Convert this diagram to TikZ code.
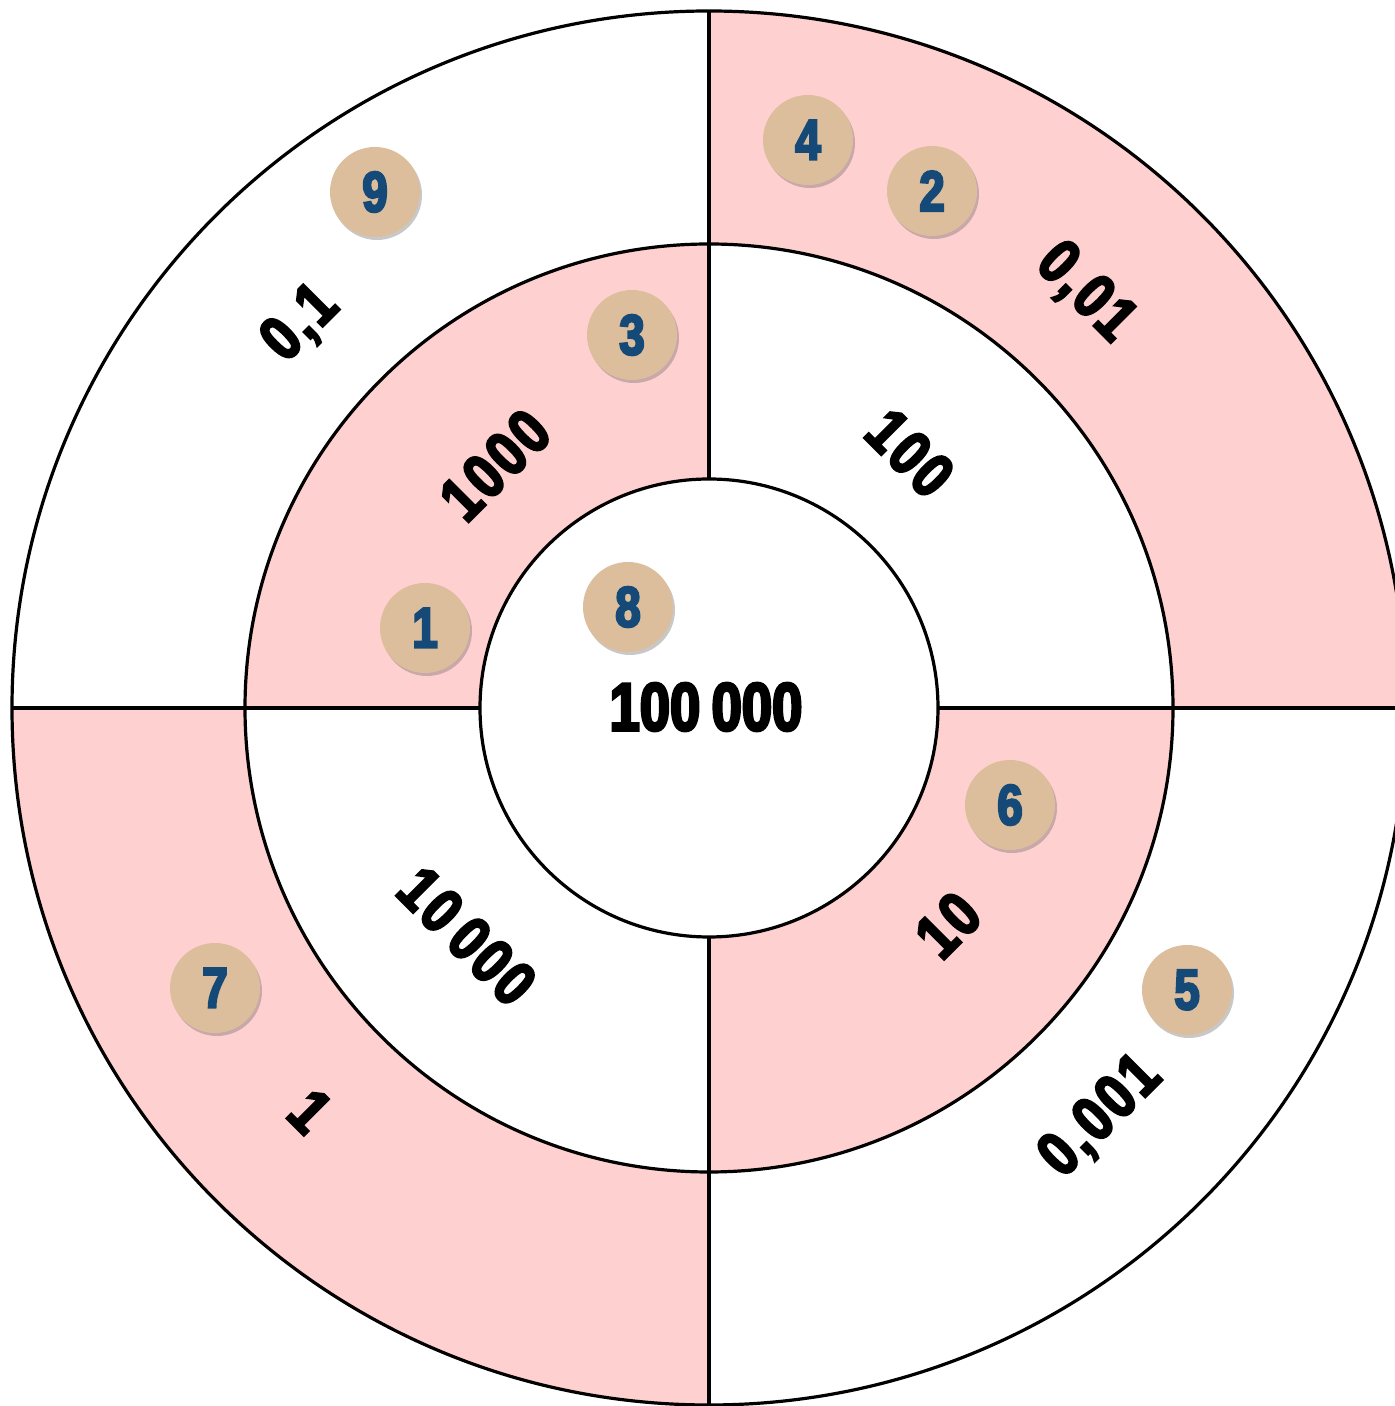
\documentclass[tikz,border=0pt]{standalone}
\usepackage{fontspec}
\newfontfamily\cond{Liberation Sans Bold}[FakeStretch=0.8,FakeBold=4]
\newfontfamily\condsp{Liberation Sans Bold}[FakeStretch=0.82,FakeBold=4,LetterSpace=5]
\usetikzlibrary{shadows}
\definecolor{ringpink}{HTML}{FFD0D0}
\definecolor{badgetan}{HTML}{DDBE9C}
\definecolor{badgeblue}{HTML}{154A78}
\tikzset{
  ringline/.style={line width=3.2pt, black},
  lbl/.style={font=\condsp\fontsize{63}{63}\selectfont, inner sep=0pt},
  centerlbl/.style={font=\cond\fontsize{68}{68}\selectfont, inner sep=0pt},
  badge/.style={circle, fill=badgetan, minimum size=90pt, inner sep=0pt,
    text=badgeblue, font=\cond\fontsize{57}{57}\selectfont,
    drop shadow={shadow xshift=2pt, shadow yshift=-3pt, opacity=0.3, fill=black!70}}
}
\begin{document}
\begin{tikzpicture}[x=1pt,y=1pt]
\useasboundingbox (0,0) rectangle (1395,1406);
\fill[white] (0,0) rectangle (1395,1406);
\begin{scope}[shift={(709,698)}]
  % pink sectors
  \fill[ringpink] (0:697) arc[start angle=0,end angle=90,radius=697] -- (90:464) arc[start angle=90,end angle=0,radius=464] -- cycle;
  \fill[ringpink] (180:697) arc[start angle=180,end angle=270,radius=697] -- (270:464) arc[start angle=270,end angle=180,radius=464] -- cycle;
  \fill[ringpink] (90:464) arc[start angle=90,end angle=180,radius=464] -- (180:229) arc[start angle=180,end angle=90,radius=229] -- cycle;
  \fill[ringpink] (270:464) arc[start angle=270,end angle=360,radius=464] -- (0:229) arc[start angle=0,end angle=-90,radius=229] -- cycle;
  % circles
  \draw[ringline] (0,0) circle[radius=697];
  \draw[ringline] (0,0) circle[radius=464];
  \draw[ringline] (0,0) circle[radius=229];
  % cross lines
  \coordinate (top) at (90:697);
  \coordinate (itop) at (90:229);
  \coordinate (bot) at (270:710);
  \coordinate (ibot) at (270:229);
  \coordinate (lft) at (180:697);
  \coordinate (ilft) at (180:229);
  \coordinate (rgt) at (0:700);
  \coordinate (irgt) at (0:229);
  \draw[ringline] (top) -- (itop);
  \draw[ringline] (ibot) -- (bot);
  \draw[ringline] (lft) -- (ilft);
  \draw[ringline] (irgt) -- (rgt);
\end{scope}
% ring labels
\node[lbl, rotate=45]  (l01)   at (301,1082) {0,1};
\node[lbl, rotate=45]  (l1000) at (495,941)  {1000};
\node[lbl, rotate=-45] (l100)  at (910,953)  {100};
\node[lbl, rotate=-45] (l001)  at (1085,1113) {0,01};
\node[lbl, rotate=-45] (l10000) at (467,470) {10\,000};
\node[lbl, rotate=-45] (l1)    at (310,295)  {1};
\node[lbl, rotate=45]  (l10)   at (948,481)  {10};
\node[lbl, rotate=45]  (l0001) at (1101,289) {0,001};
\node[centerlbl] (lc) at (706,699) {100\,000};
% badges
\node[badge] (b9) at (375,1214) {9};
\node[badge] (b4) at (808,1266) {4};
\node[badge] (b2) at (932,1215) {2};
\node[badge] (b3) at (632,1071) {3};
\node[badge] (b1) at (425,778)  {1};
\node[badge] (b8) at (628,799)  {8};
\node[badge] (b6) at (1010,601) {6};
\node[badge] (b7) at (215,418)  {7};
\node[badge] (b5) at (1187,416) {5};
\end{tikzpicture}
\end{document}
